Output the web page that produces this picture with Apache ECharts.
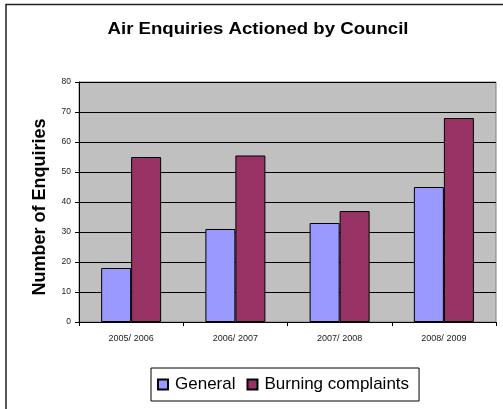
<!DOCTYPE html>
<html>
<head>
<meta charset="utf-8">
<script src="https://cdn.jsdelivr.net/npm/echarts@6/dist/echarts.min.js"></script>
<style>
html,body{margin:0;padding:0;background:#fff;}
#c{width:503px;height:409px;}
</style>
</head>
<body>
<div id="c"></div>
<script>
const titleText = "Air Enquiries Actioned by Council";
const yAxisTitle = "Number of Enquiries";
const categories = ["2005/ 2006", "2006/ 2007", "2007/ 2008", "2008/ 2009"];
const seriesNames = ["General", "Burning complaints"];
const generalValues = [18, 31, 33, 45];
const burningValues = [55, 55.5, 37, 68];
const yMin = 0, yMax = 80, yStep = 10;

const FONT = "'Liberation Sans', Arial, sans-serif";
const chart = echarts.init(document.getElementById('c'), null, {renderer: 'canvas'});
chart.setOption({
  animation: false,
  backgroundColor: '#fff',
  textStyle: {fontFamily: FONT},
  graphic: [
    {type: 'rect', shape: {x: 6, y: 4.5, width: 700, height: 700}, style: {fill: 'none', stroke: '#222', lineWidth: 1.5}, silent: true, z: -10},
    {type: 'text', x: 258, y: 29.5, scaleX: 1.095, style: {text: titleText, fontFamily: FONT, fontWeight: 'bold', fontSize: 17, fill: '#000', align: 'center', verticalAlign: 'middle'}},
    {type: 'text', x: 40, y: 207, rotation: Math.PI / 2, style: {text: yAxisTitle, fontFamily: FONT, fontWeight: 'bold', fontSize: 18, fill: '#000', align: 'center', verticalAlign: 'middle'}}
  ],
  grid: {left: 79, right: 7, top: 82, bottom: 87, show: true, backgroundColor: '#C0C0C0', borderColor: '#808080', borderWidth: 1},
  legend: {
    data: seriesNames,
    left: 151, top: 368,
    padding: [8, 10, 8, 6],
    itemWidth: 10, itemHeight: 10, itemGap: 11,
    icon: 'rect',
    borderColor: '#000', borderWidth: 1,
    backgroundColor: '#fff',
    textStyle: {fontFamily: FONT, fontSize: 17, color: '#000', padding: [0, 0, 0, 2]}
  },
  xAxis: {
    type: 'category',
    data: categories,
    boundaryGap: true,
    axisLine: {show: true, lineStyle: {color: '#000', width: 1}},
    axisTick: {show: true, length: 4, lineStyle: {color: '#000'}, alignWithLabel: false},
    axisLabel: {fontFamily: FONT, fontSize: 9, color: '#222', margin: 12}
  },
  yAxis: {
    type: 'value',
    min: yMin, max: yMax, interval: yStep,
    axisLine: {show: true, lineStyle: {color: '#000', width: 1}},
    axisTick: {show: true, length: 4, lineStyle: {color: '#000'}},
    axisLabel: {fontFamily: FONT, fontSize: 8.5, color: '#222', margin: 8},
    splitLine: {show: true, lineStyle: {color: '#000', width: 1}}
  },
  series: [
    {name: seriesNames[0], type: 'bar', data: generalValues, barWidth: 30, barGap: '0%',
     itemStyle: {color: '#9999FF', borderColor: '#000', borderWidth: 1}},
    {name: seriesNames[1], type: 'bar', data: burningValues, barWidth: 30, barGap: '0%',
     itemStyle: {color: '#993366', borderColor: '#000', borderWidth: 1}}
  ]
});
</script>
</body>
</html>
